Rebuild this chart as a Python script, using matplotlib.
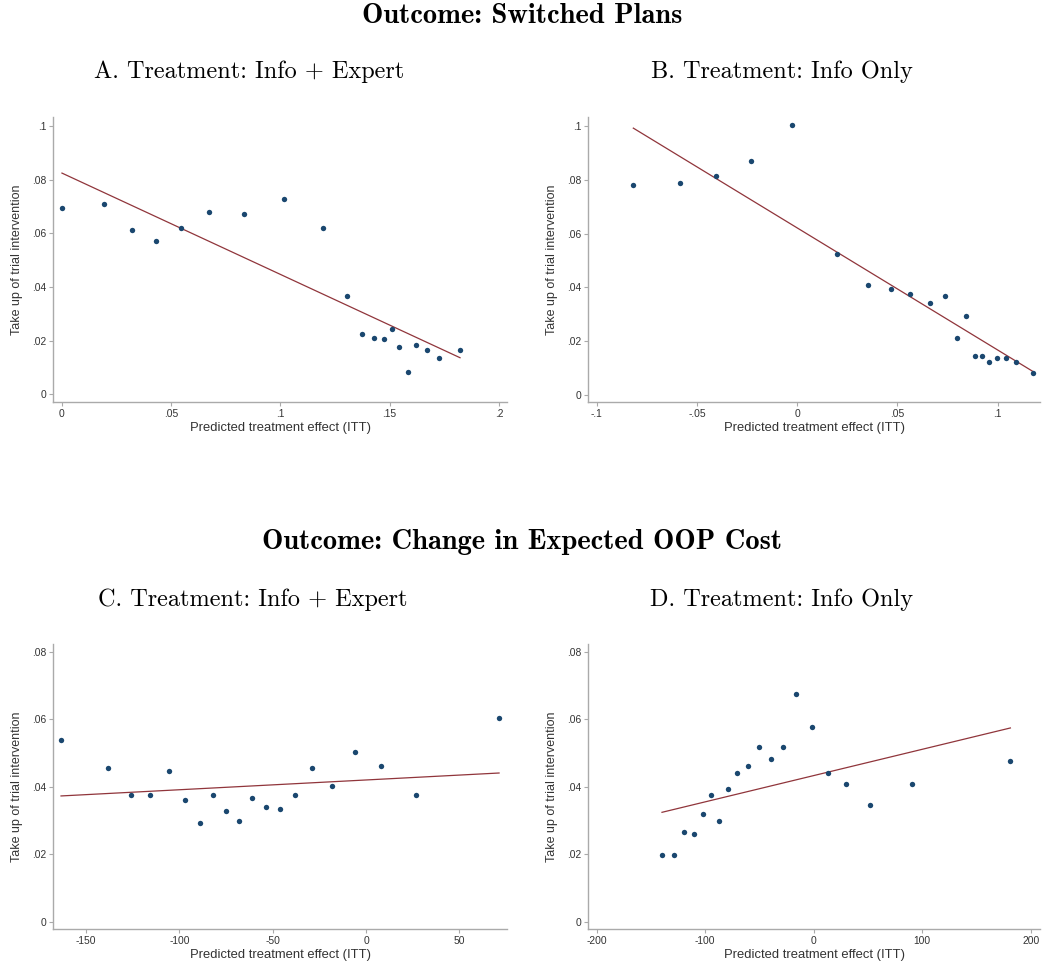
import matplotlib
matplotlib.use("Agg")
import matplotlib.pyplot as plt
import numpy as np

# binned scatter values (20 bins per panel)
xa = [0.0, 0.0194, 0.0319, 0.0431, 0.0546, 0.0672, 0.0831, 0.1015, 0.1197, 0.1306,
      0.1375, 0.1430, 0.1473, 0.1509, 0.1544, 0.1582, 0.1622, 0.1671, 0.1724, 0.1822]
ya = [0.0693, 0.0707, 0.0613, 0.0572, 0.0619, 0.0679, 0.0673, 0.0728, 0.0619, 0.0366,
      0.0224, 0.0210, 0.0204, 0.0244, 0.0177, 0.0082, 0.0183, 0.0163, 0.0136, 0.0163]
fit_a = (0.0824, -0.3776)  # intercept, slope

xb = [-0.0817, -0.0586, -0.0405, -0.0229, -0.0027, 0.0199, 0.0355, 0.0466, 0.0563, 0.0661,
      0.0739, 0.0797, 0.0844, 0.0885, 0.0922, 0.0958, 0.0997, 0.1040, 0.1090, 0.1178]
yb = [0.0781, 0.0787, 0.0815, 0.0869, 0.1006, 0.0522, 0.0407, 0.0393, 0.0373, 0.0340,
      0.0366, 0.0210, 0.0292, 0.0142, 0.0142, 0.0122, 0.0136, 0.0136, 0.0122, 0.0081]
fit_b = (0.0621, -0.4548)

xc = [-163.4, -138.4, -125.7, -115.5, -105.7, -96.8, -88.75, -81.8, -75.0, -68.2,
      -60.9, -53.6, -45.9, -37.9, -28.75, -18.0, -6.1, 8.2, 27.0, 71.25]
yc = [0.0537, 0.0455, 0.0374, 0.0374, 0.0448, 0.0360, 0.0292, 0.0374, 0.0327, 0.0299,
      0.0367, 0.0340, 0.0333, 0.0374, 0.0455, 0.0401, 0.0503, 0.0462, 0.0374, 0.0605]
fit_c = (0.0420, 2.898e-5)

xd = [-139.8, -128.4, -119.5, -110.3, -102.0, -94.6, -87.6, -79.3, -70.35, -60.5,
      -50.1, -39.6, -28.6, -16.0, -1.5, 13.2, 29.5, 51.9, 90.9, 181.3]
yd = [0.0198, 0.0198, 0.0266, 0.0259, 0.0320, 0.0374, 0.0299, 0.0394, 0.0441, 0.0462,
      0.0517, 0.0483, 0.0517, 0.0674, 0.0578, 0.0441, 0.0408, 0.0347, 0.0408, 0.0476]
fit_d = (0.0433, 7.786e-5)

xt_a = [0, 0.05, 0.1, 0.15, 0.2]
xl_a = ["0", ".05", ".1", ".15", ".2"]
xt_b = [-0.1, -0.05, 0, 0.05, 0.1]
xl_b = ["-.1", "-.05", "0", ".05", ".1"]
xt_c = [-150, -100, -50, 0, 50]
xl_c = ["-150", "-100", "-50", "0", "50"]
xt_d = [-200, -100, 0, 100, 200]
xl_d = ["-200", "-100", "0", "100", "200"]
yt_top = [0, 0.02, 0.04, 0.06, 0.08, 0.1]
yl_top = ["0", ".02", ".04", ".06", ".08", ".1"]
yt_bot = [0, 0.02, 0.04, 0.06, 0.08]
yl_bot = ["0", ".02", ".04", ".06", ".08"]

navy = "#1a476f"
maroon = "#90353b"
grey = "#aaaaaa"
txt = "#333333"

W, H = 1044, 968
fig = plt.figure(figsize=(W / 100, H / 100), dpi=100)


def add_ax(l, t, r, b):
    return fig.add_axes([l / W, 1 - b / H, (r - l) / W, (b - t) / H])


panels = [
    (add_ax(53, 117, 507, 402), xa, ya, fit_a, xt_a, xl_a, yt_top, yl_top, (-0.0041, 0.2037), (-0.0029, 0.1033)),
    (add_ax(588, 117, 1040, 402), xb, yb, fit_b, xt_b, xl_b, yt_top, yl_top, (-0.1043, 0.1211), (-0.00275, 0.1034)),
    (add_ax(53, 644, 507, 929), xc, yc, fit_c, xt_c, xl_c, yt_bot, yl_bot, (-167.7, 75.5), (-0.00217, 0.0823)),
    (add_ax(588, 644, 1040, 929), xd, yd, fit_d, xt_d, xl_d, yt_bot, yl_bot, (-208, 208.6), (-0.00217, 0.0823)),
]

for ax, x, y, fit, xt, xl, yt, yl, xlim, ylim in panels:
    x = np.array(x)
    xx = np.array([x.min(), x.max()])
    ax.plot(xx, fit[0] + fit[1] * xx, color=maroon, lw=0.9, zorder=2)
    ax.scatter(x, y, s=15, color=navy, linewidths=0, zorder=3)
    ax.set_xlim(*xlim)
    ax.set_ylim(*ylim)
    ax.set_xticks(xt)
    ax.set_xticklabels(xl)
    ax.set_yticks(yt)
    ax.set_yticklabels(yl)
    for s in ["top", "right"]:
        ax.spines[s].set_visible(False)
    for s in ["left", "bottom"]:
        ax.spines[s].set_color(grey)
        ax.spines[s].set_linewidth(1.0)
    ax.tick_params(colors=grey, labelcolor=txt, labelsize=7.4, length=3, width=0.8, pad=2)
    for lab in ax.get_xticklabels() + ax.get_yticklabels():
        lab.set_fontfamily("Liberation Sans")
    ax.set_xlabel("Predicted treatment effect (ITT)", fontsize=9.4, color=txt,
                  fontfamily="Liberation Sans", labelpad=2)
    ax.set_ylabel("Take up of trial intervention", fontsize=9.0, color=txt,
                  fontfamily="Liberation Sans", labelpad=6)

fig.text(522 / W, 1 - 16 / H, "Outcome: Switched Plans", fontfamily="cmb10",
         fontsize=20.5, ha="center", va="center")
fig.text(522 / W, 1 - 542 / H, "Outcome: Change in Expected OOP Cost", fontfamily="cmb10",
         fontsize=20.5, ha="center", va="center")
subs = [("A. Treatment: Info + Expert", 249, 72), ("B. Treatment: Info Only", 782, 72),
        ("C. Treatment: Info + Expert", 253, 600), ("D. Treatment: Info Only", 782, 600)]
for s, cx, cy in subs:
    fig.text(cx / W, 1 - cy / H, s, fontfamily="cmr10", fontsize=17.5,
             ha="center", va="center")

fig.savefig("out.png", dpi=100)
